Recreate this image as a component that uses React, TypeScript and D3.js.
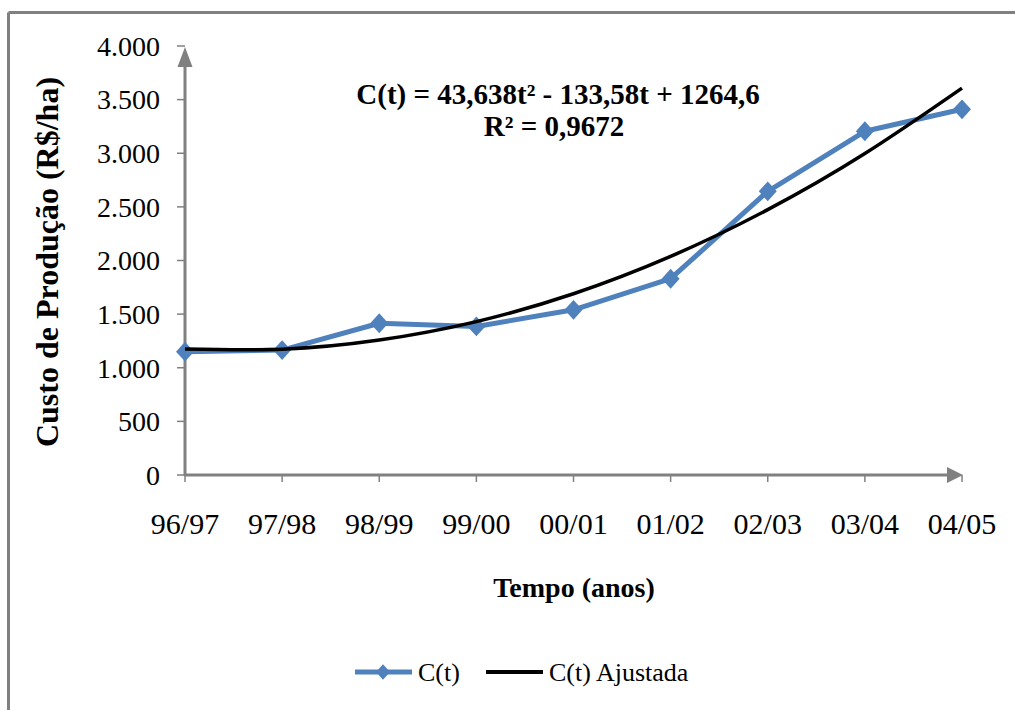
import React from "react";
import * as d3 from "d3";

const categories = ["96/97", "97/98", "98/99", "99/00", "00/01", "01/02", "02/03", "03/04", "04/05"];
const observed = [1150, 1165, 1415, 1385, 1540, 1830, 2645, 3205, 3410];
const fitted = [1175, 1173, 1258, 1430, 1690, 2038, 2474, 2997, 3607];
const yTicks = [0, 500, 1000, 1500, 2000, 2500, 3000, 3500, 4000];
const equationText = "C(t) = 43,638t² - 133,58t + 1264,6";
const r2Text = "R² = 0,9672";
const yTitle = "Custo de Produção (R$/ha)";
const xTitle = "Tempo (anos)";
const legendLabels = ["C(t)", "C(t) Ajustada"];

const W = 1015;
const H = 710;
const BLUE = "#4F81BD";
const GRAY = "#808080";
const FONT = "'Liberation Serif', 'Times New Roman', serif";

const fmt = (v: number) => (v >= 1000 ? d3.format(",")(v).replace(/,/g, ".") : String(v));

export default function App() {
  const x = d3.scalePoint<string>().domain(categories).range([185, 962]);
  const y = d3.scaleLinear().domain([0, 4000]).range([475, 46]);

  const obsLine = d3
    .line<number>()
    .x((_, i) => x(categories[i]) as number)
    .y((d) => y(d));
  const fitLine = d3
    .line<number>()
    .x((_, i) => x(categories[i]) as number)
    .y((d) => y(d))
    .curve(d3.curveNatural);

  const x0 = x(categories[0]) as number;
  const xEnd = x(categories[categories.length - 1]) as number;
  const y0 = y(0);
  const yTop = y(4000);

  const diamond = (cx: number, cy: number, r = 8) =>
    `M${cx},${cy - r * 1.1}L${cx + r},${cy}L${cx},${cy + r * 1.1}L${cx - r},${cy}Z`;

  return (
    <svg width={W} height={H} style={{ position: "absolute", left: 0, top: 0, background: "#fff" }} fontFamily={FONT}>
      <rect x={0} y={0} width={W} height={H} fill="#fff" />
      {/* outer frame (top and left visible) */}
      <line x1={8.5} y1={12.5} x2={1015} y2={12.5} stroke={GRAY} strokeWidth={3} />
      <line x1={8.5} y1={12.5} x2={8.5} y2={710} stroke={GRAY} strokeWidth={3} />

      {/* y ticks */}
      {yTicks.map((t) => (
        <g key={t}>
          <line x1={177} x2={x0} y1={y(t)} y2={y(t)} stroke={GRAY} strokeWidth={1.5} />
          <text x={160} y={y(t)} dy="0.35em" textAnchor="end" fontSize={28} fill="#000">
            {fmt(t)}
          </text>
        </g>
      ))}
      {/* x ticks */}
      {categories.map((c) => (
        <g key={c}>
          <line x1={x(c) as number} x2={x(c) as number} y1={y0} y2={y0 + 7} stroke={GRAY} strokeWidth={1.5} />
          <text x={x(c) as number} y={534} textAnchor="middle" fontSize={30} fill="#000">
            {c}
          </text>
        </g>
      ))}
      {/* axes */}
      <line x1={x0} y1={y0 + 1} x2={x0} y2={yTop + 18} stroke={GRAY} strokeWidth={3} />
      <path d={`M${x0},${yTop + 1}L${x0 + 7.5},${yTop + 21}L${x0 - 7.5},${yTop + 21}Z`} fill={GRAY} />
      <line x1={x0 - 1} y1={y0} x2={xEnd - 14} y2={y0} stroke={GRAY} strokeWidth={3} />
      <path d={`M${xEnd + 1},${y0}L${xEnd - 15},${y0 - 8}L${xEnd - 15},${y0 + 8}Z`} fill={GRAY} />

      {/* series */}
      <path d={obsLine(observed) || ""} fill="none" stroke={BLUE} strokeWidth={5} strokeLinejoin="round" />
      {observed.map((v, i) => (
        <path key={i} d={diamond(x(categories[i]) as number, y(v), 9)} fill={BLUE} />
      ))}
      <path d={fitLine(fitted) || ""} fill="none" stroke="#000" strokeWidth={3.5} />

      {/* equation */}
      <text x={558} y={104} textAnchor="middle" fontSize={29} fontWeight="bold" fill="#000">
        {equationText}
      </text>
      <text x={554} y={136} textAnchor="middle" fontSize={29} fontWeight="bold" fill="#000">
        {r2Text}
      </text>

      {/* axis titles */}
      <text
        transform={`translate(58,262) rotate(-90)`}
        textAnchor="middle"
        fontSize={32}
        fontWeight="bold"
        fill="#000"
      >
        {yTitle}
      </text>
      <text x={574} y={597} textAnchor="middle" fontSize={28} fontWeight="bold" fill="#000">
        {xTitle}
      </text>

      {/* legend */}
      <line x1={355} x2={412} y1={672} y2={672} stroke={BLUE} strokeWidth={5} />
      <path d={diamond(383, 672, 7)} fill={BLUE} />
      <text x={418} y={681} fontSize={26} fill="#000">
        {legendLabels[0]}
      </text>
      <line x1={486} x2={543} y1={672} y2={672} stroke="#000" strokeWidth={4} />
      <text x={549} y={681} fontSize={26} fill="#000">
        {legendLabels[1]}
      </text>
    </svg>
  );
}
